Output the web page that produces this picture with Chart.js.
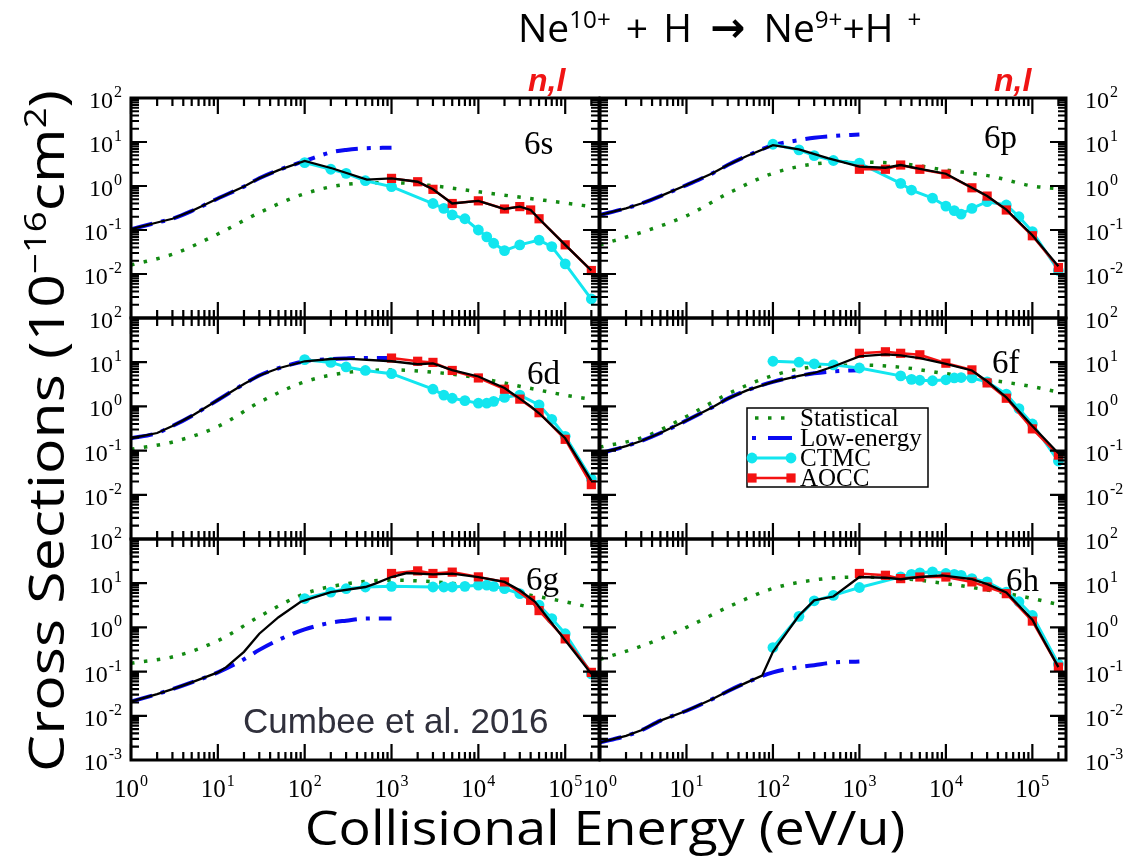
<!DOCTYPE html>
<html>
<head>
<meta charset="utf-8">
<title>Ne10+ + H charge exchange: n=6, l-resolved cross sections</title>
<script src="https://cdn.jsdelivr.net/npm/chart.js@4.4.1/dist/chart.umd.min.js"></script>
<style>
  html, body { margin: 0; padding: 0; background: #fff; }
  #page { position: relative; width: 1130px; height: 856px; overflow: hidden; background: #fff; }
  #charts canvas { position: absolute; }
  .txt { position: absolute; white-space: nowrap; line-height: 1; color: #000; }
  .txt sup { font-size: 0.62em; vertical-align: super; line-height: 0; }
  #title { left: 518px; top: 7px; font-family: "Open Sans", sans-serif; font-size: 39px; word-spacing: 5px; }
  #title .arr { font-family: "DejaVu Sans", sans-serif; font-weight: bold; font-size: 42px; margin: 0 3px; }
  #title .ion { margin-left: 14px; }
  #xTitle { left: 605px; top: 803px; font-family: "Open Sans", sans-serif; font-size: 48px;
            transform: translateX(-50%) scaleX(1.12); }
  #yTitle { left: 45px; top: 431px; font-family: "Open Sans", sans-serif; font-size: 50px;
            transform: translate(-50%, -50%) rotate(-90deg) scaleX(1.18); }
  .nl { top: 64px; font-family: "Liberation Sans", Arial, sans-serif; font-size: 32px;
        font-style: italic; font-weight: bold; color: #f01414; }
  #cite { left: 243px; top: 703px; font-family: "Liberation Sans", Arial, sans-serif; font-size: 35px; color: #30303c; }
</style>
</head>
<body>
<div id="page">
  <div id="charts"></div>
  <div id="title" class="txt">Ne<sup>10+</sup> + H <span class="arr">→</span> Ne<sup>9+</sup>+H<sup class="ion">+</sup></div>
  <div class="txt nl" style="left:528px">n,l</div>
  <div class="txt nl" style="left:994px">n,l</div>
  <div id="yTitle" class="txt">Cross Sections (10<sup>−16</sup>cm<sup>2</sup>)</div>
  <div id="xTitle" class="txt">Collisional Energy (eV/u)</div>
  <div id="cite" class="txt">Cumbee et al. 2016</div>
</div>
<script>
// ---------- collision energies (eV/u) ----------
const statEnergy   = [1, 3.16, 10, 31.6, 100, 316, 1000, 3160, 10000, 31600, 100000, 200000];
const lowEnergy    = [1, 2, 3, 5, 10, 20, 30, 50, 100, 200, 300, 500, 1000];
const ctmcEnergy   = [100, 200, 300, 500, 1000, 3000, 4000, 5000, 7000, 10000, 12500, 15000, 20000, 30000, 50000, 70000, 100000, 200000];
const ctmcEnergy6p = [100, 200, 300, 500, 1000, 3000, 4000, 7000, 10000, 12500, 15000, 20000, 30000, 50000, 70000, 100000, 200000];
const aoccEnergy   = [1000, 2000, 3000, 5000, 10000, 20000, 30000, 50000, 100000, 200000];
const aoccEnergy6s = [1000, 2000, 3000, 5000, 10000, 20000, 30000, 40000, 50000, 100000, 200000];
const aoccEnergy6g = [1000, 2000, 3000, 5000, 10000, 20000, 40000, 50000, 100000, 200000];

// ---------- cross sections (1e-16 cm^2) ----------
// 6s
const stat6s = [0.016, 0.029, 0.081, 0.26, 0.67, 1.1, 1.19, 1.0, 0.74, 0.55, 0.41, 0.34];
const low6s  = [0.104, 0.148, 0.18, 0.27, 0.52, 0.97, 1.5, 2.3, 3.7, 5.8, 6.6, 7.2, 7.4];
const ctmc6s = [3.4, 2.4, 1.94, 1.32, 0.97, 0.40, 0.31, 0.22, 0.18, 0.10, 0.07, 0.050, 0.034, 0.046, 0.059, 0.042, 0.017, 0.0027];
const aocc6s = [1.49, 1.25, 0.84, 0.40, 0.46, 0.30, 0.34, 0.285, 0.18, 0.046, 0.012];
const recEnergy6s = [1, 2, 3, 5, 10, 20, 30, 50, 100, 210, 520, 1000, 2000, 3000, 5000, 10000, 20000, 30000, 40000, 50000, 100000, 200000];
const rec6s       = [0.104, 0.148, 0.18, 0.27, 0.52, 0.97, 1.5, 2.3, 3.7, 2.5, 1.4, 1.49, 1.25, 0.84, 0.40, 0.46, 0.30, 0.34, 0.285, 0.18, 0.046, 0.012];
// 6p
const stat6p = [0.046, 0.091, 0.21, 0.71, 1.94, 3.2, 3.5, 3.2, 2.3, 1.7, 1.0, 0.87];
const low6p  = [0.22, 0.31, 0.40, 0.59, 1.05, 1.94, 3.0, 4.8, 8.5, 11, 12.5, 13.7, 14.8];
const ctmc6p = [8.9, 6.6, 4.9, 3.8, 3.3, 1.15, 0.81, 0.53, 0.35, 0.275, 0.23, 0.31, 0.44, 0.37, 0.2, 0.092, 0.012];
const aocc6p = [2.4, 2.4, 3.0, 2.4, 1.86, 0.91, 0.59, 0.285, 0.074, 0.014];
const recEnergy6p = [1, 2, 3, 5, 10, 20, 30, 50, 100, 200, 430, 1000, 2000, 3000, 5000, 10000, 20000, 30000, 50000, 100000, 200000];
const rec6p       = [0.22, 0.31, 0.40, 0.59, 1.05, 1.94, 3.0, 4.8, 8.5, 6.8, 4.3, 2.75, 2.6, 3.0, 2.45, 1.9, 0.91, 0.59, 0.29, 0.076, 0.015];
// 6d
const stat6d = [0.107, 0.16, 0.35, 1.3, 3.6, 5.9, 6.7, 5.9, 4.4, 2.8, 1.8, 1.45];
const low6d  = [0.19, 0.25, 0.36, 0.61, 1.4, 3.2, 5.0, 7.3, 10.5, 11.8, 12.2, 12.5, 12.5];
const ctmc6d = [11.4, 9.9, 7.8, 6.5, 5.5, 2.45, 1.8, 1.53, 1.35, 1.18, 1.18, 1.3, 1.6, 1.8, 1.08, 0.51, 0.21, 0.023];
const aocc6d = [12.4, 10.5, 9.9, 6.5, 4.4, 2.45, 1.46, 0.72, 0.18, 0.017];
const recEnergy6d = [1, 2, 3, 5, 10, 20, 30, 50, 100, 200, 300, 1000, 2000, 3000, 5000, 10000, 20000, 30000, 40000, 50000, 100000, 200000];
const rec6d       = [0.19, 0.25, 0.36, 0.61, 1.4, 3.2, 5.0, 7.3, 10.5, 11.8, 12.0, 10.5, 9.0, 9.4, 6.6, 4.75, 2.6, 1.5, 1.0, 0.70, 0.19, 0.021];
// 6f
const stat6f = [0.12, 0.2, 0.59, 2.0, 5.0, 8.0, 8.6, 7.6, 5.5, 4.0, 2.8, 2.1];
const low6f  = [0.087, 0.126, 0.165, 0.25, 0.48, 0.96, 1.5, 2.3, 3.6, 4.9, 5.6, 6.2, 6.6];
const ctmc6f = [10.5, 10, 9.2, 8.7, 7.4, 4.9, 4.1, 3.9, 3.8, 4.0, 4.4, 4.5, 4.4, 3.6, 1.9, 0.89, 0.4, 0.058];
const aocc6f = [15.9, 17.2, 15.9, 14.7, 9.5, 6.7, 3.4, 1.53, 0.31, 0.079];
const recEnergy6f = [1, 2, 3, 5, 10, 20, 30, 50, 100, 200, 300, 500, 1000, 2000, 3000, 5000, 10000, 20000, 30000, 50000, 100000, 200000];
const rec6f       = [0.087, 0.126, 0.165, 0.25, 0.48, 0.96, 1.5, 2.3, 3.6, 4.9, 5.7, 8.0, 13.5, 15.0, 14.3, 12.4, 9.2, 6.5, 3.7, 1.6, 0.36, 0.087];
// 6g
const stat6g = [0.155, 0.22, 0.5, 1.86, 5.8, 9.8, 11.7, 10.7, 8.5, 5.8, 3.8, 2.8];
const low6g  = [0.021, 0.031, 0.040, 0.057, 0.096, 0.19, 0.31, 0.52, 0.9, 1.28, 1.42, 1.58, 1.6];
const ctmc6g = [4.5, 6.3, 7.5, 8.2, 8.5, 8.2, 8.2, 8.2, 8.5, 9.0, 9.0, 8.5, 7.5, 5.8, 3.2, 1.58, 0.72, 0.089];
const aocc6g = [16.6, 19, 16.6, 17.8, 13.9, 10.7, 4.1, 2.4, 0.55, 0.096];
const recEnergy6g = [1, 2, 3, 5, 10, 12.5, 20, 30, 50, 90, 200, 500, 650, 1000, 1500, 3000, 5000, 10000, 20000, 30000, 45000, 100000, 200000];
const rec6g       = [0.021, 0.031, 0.040, 0.057, 0.096, 0.126, 0.28, 0.72, 1.7, 3.8, 6.3, 8.2, 9.8, 13.8, 17, 15.9, 16.5, 13.8, 10.7, 6.9, 3.8, 0.51, 0.089];
// 6h
const stat6h = [0.19, 0.39, 1.0, 3.0, 7.6, 12, 13.8, 12.7, 9.8, 6.9, 4.5, 3.3];
const low6h  = [0.0025, 0.0035, 0.0047, 0.0078, 0.013, 0.024, 0.036, 0.057, 0.096, 0.126, 0.14, 0.16, 0.17];
const ctmc6h = [0.35, 1.78, 4.0, 5.3, 8.0, 13.9, 15.9, 17.2, 18.1, 16.6, 15.9, 15.1, 12.7, 10.7, 6.3, 3.8, 1.86, 0.148];
const aocc6h = [16.6, 15.1, 12.7, 13.8, 13.8, 10.7, 8.2, 5.8, 1.39, 0.126];
const recEnergy6h = [1, 2, 3, 5, 10, 20, 30, 50, 75, 100, 200, 300, 500, 1000, 2000, 3000, 5000, 9000, 20000, 30000, 50000, 100000, 200000];
const rec6h       = [0.0025, 0.0035, 0.0047, 0.0078, 0.013, 0.024, 0.036, 0.057, 0.081, 0.28, 1.86, 4.1, 5.0, 13.8, 13.3, 12.3, 13.8, 15.1, 12.3, 9.5, 6.2, 1.5, 0.126];

// ---------- labels ----------
const panelNames = ['6s', '6p', '6d', '6f', '6g', '6h'];
const legendNames = ['Statistical', 'Low-energy', 'CTMC', 'AOCC'];
const xTickPowers = [0, 1, 2, 3, 4, 5];
const yTickPowersUpper = [2, 1, 0, -1, -2];
const yTickPowersBottom = [2, 1, 0, -1, -2, -3];

// ---------- styling ----------
const GREEN = '#128a12', BLUE = '#0a0af2', CYAN = '#12e6ef', RED = '#f41212';
const X_MIN = 1, X_MAX = 2.45e5, Y_MIN = 1e-3, Y_MAX = 1e2;
const PAD = 60, MAJOR = 16, MINOR = 8;
const TICK_FONT = 24, XTICK_FONT = 25, SUP_FONT = 16;
const SERIF = '"Liberation Serif", "Times New Roman", serif';

function pts(E, V) { return E.map((e, i) => ({ x: e, y: V[i] })); }

function series(stat, low, ctmcE, ctmc, aoccE, aocc, recE, rec) {
  return [
    { label: 'Recommended', data: pts(recE, rec), order: 0, borderColor: '#000', borderWidth: 2.3,
      pointRadius: 0, tension: 0 },
    { label: legendNames[3], data: pts(aoccE, aocc), order: 1, borderColor: RED, backgroundColor: RED,
      pointBackgroundColor: RED, borderWidth: 2.5, pointStyle: 'rect', pointRadius: 6.5, pointBorderWidth: 0 },
    { label: legendNames[2], data: pts(ctmcE, ctmc), order: 2, borderColor: CYAN, backgroundColor: CYAN,
      pointBackgroundColor: CYAN, borderWidth: 3, pointStyle: 'circle', pointRadius: 5.4, pointBorderWidth: 0 },
    { label: legendNames[1], data: pts(lowEnergy, low), order: 3, borderColor: BLUE, borderWidth: 4,
      borderDash: [22, 9, 4, 9], pointRadius: 0, cubicInterpolationMode: 'monotone' },
    { label: legendNames[0], data: pts(statEnergy, stat), order: 4, borderColor: GREEN, borderWidth: 3.5,
      borderDash: [3.5, 9.5], pointRadius: 0, cubicInterpolationMode: 'monotone' }
  ];
}

const panels = [
  { tag: panelNames[0], left: 131, top: 98,  width: 468, height: 220, side: 'left',  yPowers: yTickPowersUpper,  xLabels: false, tagPos: [393, 56],
    datasets: series(stat6s, low6s, ctmcEnergy, ctmc6s, aoccEnergy6s, aocc6s, recEnergy6s, rec6s) },
  { tag: panelNames[1], left: 600, top: 98,  width: 466, height: 220, side: 'right', yPowers: yTickPowersUpper,  xLabels: false, tagPos: [384, 50],
    datasets: series(stat6p, low6p, ctmcEnergy6p, ctmc6p, aoccEnergy, aocc6p, recEnergy6p, rec6p) },
  { tag: panelNames[2], left: 131, top: 318, width: 468, height: 221, side: 'left',  yPowers: yTickPowersUpper,  xLabels: false, tagPos: [396, 66],
    datasets: series(stat6d, low6d, ctmcEnergy, ctmc6d, aoccEnergy, aocc6d, recEnergy6d, rec6d) },
  { tag: panelNames[3], left: 600, top: 318, width: 466, height: 221, side: 'right', yPowers: yTickPowersUpper,  xLabels: false, tagPos: [392, 55], legend: true,
    datasets: series(stat6f, low6f, ctmcEnergy, ctmc6f, aoccEnergy, aocc6f, recEnergy6f, rec6f) },
  { tag: panelNames[4], left: 131, top: 539, width: 468, height: 221, side: 'left',  yPowers: yTickPowersBottom, xLabels: true,  tagPos: [395, 51],
    datasets: series(stat6g, low6g, ctmcEnergy, ctmc6g, aoccEnergy6g, aocc6g, recEnergy6g, rec6g) },
  { tag: panelNames[5], left: 600, top: 539, width: 466, height: 221, side: 'right', yPowers: yTickPowersBottom, xLabels: true,  tagPos: [406, 52],
    datasets: series(stat6h, low6h, ctmcEnergy, ctmc6h, aoccEnergy, aocc6h, recEnergy6h, rec6h) }
];

// decade + minor tick values inside [min, max]
function logTicks(min, max) {
  const out = [];
  for (let d = Math.floor(Math.log10(min)); d <= Math.ceil(Math.log10(max)); d++) {
    for (let m = 1; m <= 9; m++) {
      const v = m * Math.pow(10, d);
      if (v >= min * 0.999999 && v <= max * 1.000001) out.push([v, m === 1]);
    }
  }
  return out;
}

// "10" with a raised exponent
function drawPower(ctx, p, x, base, align, size) {
  const big = '10', small = String(p);
  ctx.font = size + 'px ' + SERIF;
  const w1 = ctx.measureText(big).width;
  ctx.font = SUP_FONT + 'px ' + SERIF;
  const w2 = ctx.measureText(small).width;
  const total = w1 + 1 + w2;
  const left = align === 'left' ? x : align === 'right' ? x - total : x - total / 2;
  ctx.textAlign = 'left';
  ctx.textBaseline = 'alphabetic';
  ctx.font = size + 'px ' + SERIF;
  ctx.fillText(big, left, base);
  ctx.font = SUP_FONT + 'px ' + SERIF;
  ctx.fillText(small, left + w1 + 1, base - 11);
}

function drawLegend(chart) {
  const { ctx, chartArea: a } = chart;
  const bx = a.left + 147, by = a.top + 90, bw = 181, bh = 79;
  ctx.save();
  ctx.fillStyle = '#fff';
  ctx.fillRect(bx, by, bw, bh);
  ctx.strokeStyle = '#000';
  ctx.lineWidth = 1.5;
  ctx.strokeRect(bx, by, bw, bh);
  const byLabel = {};
  chart.data.datasets.forEach(d => { byLabel[d.label] = d; });
  legendNames.forEach((name, i) => {
    const d = byLabel[name];
    const cy = by + 10 + i * 20;
    ctx.strokeStyle = d.borderColor;
    ctx.lineWidth = d.borderWidth;
    ctx.beginPath();
    if (i === 0) {
      ctx.setLineDash(d.borderDash);
      ctx.moveTo(bx + 8, cy); ctx.lineTo(bx + 40, cy);
    } else if (i === 1) {
      ctx.setLineDash([4, 12, 24, 100]);
      ctx.moveTo(bx + 5, cy); ctx.lineTo(bx + 45, cy);
    } else {
      ctx.setLineDash([]);
      ctx.moveTo(bx + 4, cy); ctx.lineTo(bx + 45, cy);
    }
    ctx.stroke();
    ctx.setLineDash([]);
    ctx.fillStyle = d.borderColor;
    if (i === 2) {
      [bx + 5, bx + 44].forEach(px => { ctx.beginPath(); ctx.arc(px, cy, d.pointRadius, 0, Math.PI * 2); ctx.fill(); });
    } else if (i === 3) {
      const s = d.pointRadius * Math.SQRT1_2;
      [bx + 5, bx + 44].forEach(px => ctx.fillRect(px - s, cy - s, 2 * s, 2 * s));
    }
    ctx.fillStyle = '#000';
    ctx.font = '25px ' + SERIF;
    ctx.textAlign = 'left';
    ctx.textBaseline = 'alphabetic';
    ctx.fillText(name, bx + 53, cy + 8);
  });
  ctx.restore();
}

const framePlugin = {
  id: 'frame',
  afterDatasetsDraw(chart, args, o) {
    const { ctx, chartArea: a } = chart;
    const xs = chart.scales.x, ys = chart.scales.y;
    ctx.save();
    ctx.strokeStyle = '#000';
    ctx.lineWidth = 2.2;
    ctx.beginPath();
    logTicks(xs.min, xs.max).forEach(([v, major]) => {
      const px = xs.getPixelForValue(v);
      const len = major ? MAJOR : MINOR;
      ctx.moveTo(px, a.top); ctx.lineTo(px, a.top + len);
      ctx.moveTo(px, a.bottom); ctx.lineTo(px, a.bottom - len);
    });
    logTicks(ys.min, ys.max).forEach(([v, major]) => {
      const py = ys.getPixelForValue(v);
      const len = major ? MAJOR : MINOR;
      ctx.moveTo(a.left, py); ctx.lineTo(a.left + len, py);
      ctx.moveTo(a.right, py); ctx.lineTo(a.right - len, py);
    });
    ctx.stroke();
    ctx.lineWidth = 3;
    ctx.strokeRect(a.left, a.top, a.right - a.left, a.bottom - a.top);

    ctx.fillStyle = '#000';
    o.yPowers.forEach(p => {
      const py = ys.getPixelForValue(Math.pow(10, p));
      if (o.side === 'left') drawPower(ctx, p, a.left - 9, py + 10, 'right', TICK_FONT);
      else drawPower(ctx, p, a.right + 19, py + 10, 'left', TICK_FONT);
    });
    if (o.xLabels) {
      xTickPowers.forEach(p => {
        const px = xs.getPixelForValue(Math.pow(10, p));
        drawPower(ctx, p, px, a.bottom + 37, 'center', XTICK_FONT);
      });
    }
    ctx.font = '33px ' + SERIF;
    ctx.textAlign = 'left';
    ctx.textBaseline = 'alphabetic';
    ctx.fillText(o.tag, a.left + o.tagPos[0], a.top + o.tagPos[1]);
    ctx.restore();
    if (o.legend) drawLegend(chart);
  }
};

const host = document.getElementById('charts');
panels.forEach(p => {
  const cv = document.createElement('canvas');
  cv.width = p.width + 2 * PAD;
  cv.height = p.height + 2 * PAD;
  cv.style.left = (p.left - PAD) + 'px';
  cv.style.top = (p.top - PAD) + 'px';
  cv.style.width = cv.width + 'px';
  cv.style.height = cv.height + 'px';
  host.appendChild(cv);
  new Chart(cv, {
    type: 'line',
    data: { datasets: p.datasets },
    plugins: [framePlugin],
    options: {
      responsive: false,
      animation: false,
      devicePixelRatio: 1,
      events: [],
      layout: { padding: PAD },
      plugins: {
        legend: { display: false },
        tooltip: { enabled: false },
        frame: { tag: p.tag, tagPos: p.tagPos, side: p.side, yPowers: p.yPowers, xLabels: p.xLabels, legend: !!p.legend }
      },
      scales: {
        x: { type: 'logarithmic', min: X_MIN, max: X_MAX, display: false },
        y: { type: 'logarithmic', min: Y_MIN, max: Y_MAX, display: false }
      }
    }
  });
});
</script>
</body>
</html>
